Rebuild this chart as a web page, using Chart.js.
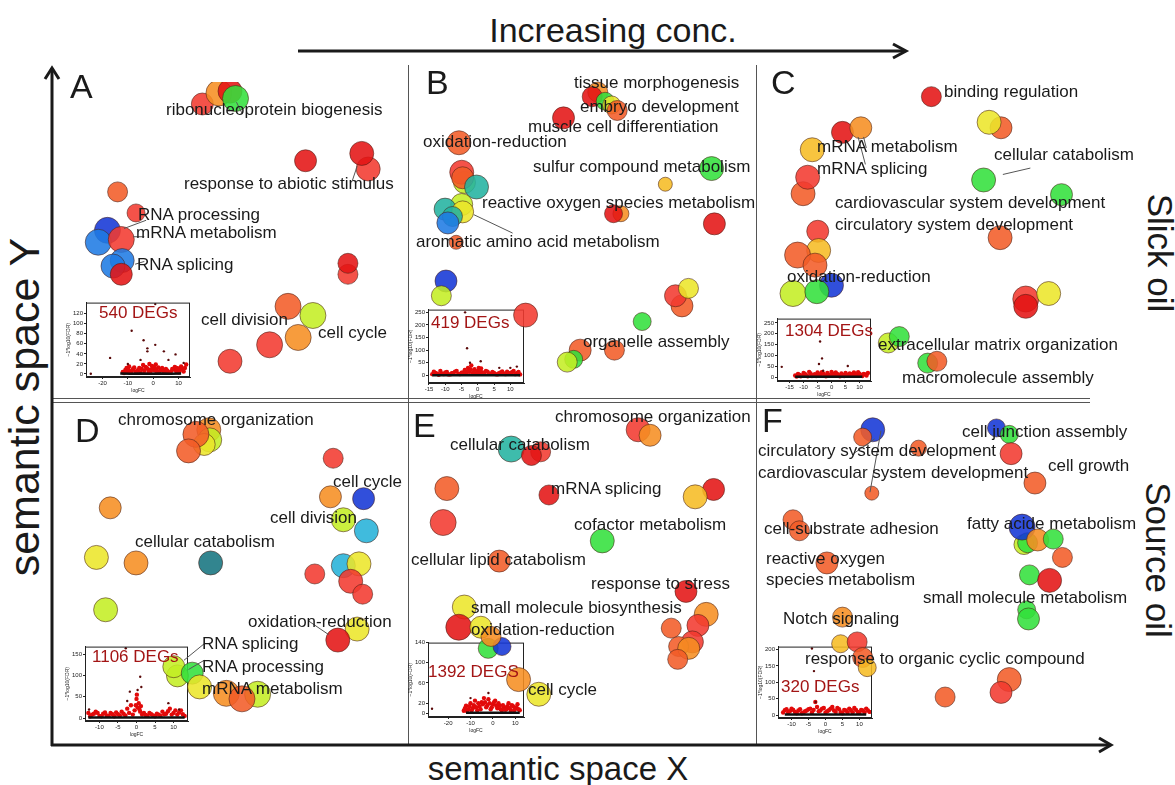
<!DOCTYPE html>
<html lang="en">
<head>
<meta charset="UTF-8">
<title>Semantic space</title>
<script src="https://cdn.jsdelivr.net/npm/chart.js"></script>
<style>
  body { margin: 0; background: #fff; }
  #fig { position: relative; width: 1175px; height: 785px; overflow: hidden;
         font-family: "Liberation Sans", Arial, sans-serif; color: #1a1a1a; }
  #fig canvas { position: absolute; }
  #frame { position: absolute; left: 0; top: 0; z-index: 0; }
  .lbl { position: absolute; font-size: 17px; line-height: 1; white-space: nowrap;
         transform: translateY(-50%); z-index: 5; }
  .letter { position: absolute; font-size: 34px; line-height: 1; transform: translateY(-50%); z-index: 5; }
  .degs { color: #a31515; }
  .big { position: absolute; line-height: 1; white-space: nowrap; z-index: 5; }
</style>
</head>
<body>
<div id="fig">
  <svg id="frame" width="1175" height="785">
    <g stroke="#555" stroke-width="1" fill="none">
      <line x1="408.5" y1="65" x2="408.5" y2="745"/>
      <line x1="756.5" y1="65" x2="756.5" y2="745"/>
      <line x1="52" y1="398.5" x2="1090" y2="398.5"/>
      <line x1="52" y1="402.5" x2="1090" y2="402.5"/>
    </g>
    <g stroke="#1a1a1a" stroke-width="3" fill="none">
      <line x1="52" y1="746" x2="52" y2="68"/>
      <polyline points="45,79 52,68 59,79"/>
      <line x1="51" y1="745" x2="1110" y2="745"/>
      <polyline points="1099,738 1111,745 1099,752"/>
      <line x1="298" y1="51" x2="905" y2="51"/>
      <polyline points="893,44 906,51 893,58"/>
    </g>
  </svg>
  <div class="big" style="left:613px; top:13px; font-size:34px; transform:translateX(-50%)">Increasing conc.</div>
  <div class="big" style="left:24px; top:407px; font-size:43px; transform:translate(-50%,-50%) rotate(-90deg)">semantic space Y</div>
  <div class="big" style="left:558px; top:768px; font-size:33px; transform:translate(-50%,-50%)">semantic space X</div>
  <div class="big" style="left:1160px; top:253px; font-size:35px; transform:translate(-50%,-50%) rotate(90deg)">Slick oil</div>
  <div class="big" style="left:1158px; top:560px; font-size:35px; transform:translate(-50%,-50%) rotate(90deg)">Source oil</div>
</div>

<script>
// colour scale of the GO terms (index = significance class, blue low -> red high)
const COLORS = ['#1437d6','#1f7be4','#26b2d8','#167480','#23b3a0','#33e03c','#c4ee24',
                '#ece62a','#f6bc24','#f68e22','#f25c28','#f23a30','#e41414'];

// Panel A
const A_X = [14.8,16.6,17.8,18.4,26.0,32.8,32.1,5.6,7.6,4.5,3.5,6.0,6.1,5.1,6.0,30.6,30.6,24.1,26.8,25.2,22.1,17.8];
const A_Y = [30.8,32.0,32.2,31.4,24.6,23.7,25.4,21.2,18.9,17.0,15.7,16.0,13.7,13.1,12.2,12.2,13.4,8.7,7.7,5.3,4.5,2.7];
const A_R = [11,13,12,13,11,12,12,10,9,13,13,13,12,12,11,10,10,13,13,13,13,12];
const A_C = [11,9,12,5,12,11,12,10,11,0,1,11,1,1,12,11,12,10,6,9,11,11];
// Panel B
const B_X = [15.4,19.1,18.5,19.9,20.6,21.2,4.1,4.7,4.4,4.5,6.0,31.4,26.4,4.4,2.6,4.5,3.4,2.9,3.8,21.6,20.8,31.7,2.7,2.2,11.3,28.2,27.5,28.9,23.9,20.9,17.2,16.5,15.8];
const B_Y = [29.2,32.0,31.5,31.0,30.6,30.0,26.5,22.2,23.3,22.7,21.7,23.7,22.0,19.8,19.3,19.0,18.5,17.8,15.7,18.8,18.8,17.7,11.5,9.9,7.8,8.8,9.9,10.7,7.1,4.0,4.0,3.0,2.7];
const B_R = [11,10,10,9,9,10,12,11,12,11,12,12,7,11,11,11,10,11,7,8,9,11,11,10,12,11,11,10,9,10,11,9,10];
const B_C = [12,9,12,5,7,10,10,6,11,10,4,5,8,6,4,7,4,1,10,9,12,12,0,6,11,10,11,7,5,10,10,5,6];
// Panel C
const C_X = [17.5,25.1,23.8,7.8,9.8,4.5,3.5,4.0,23.2,31.7,25.0,5.1,5.2,2.9,4.8,6.6,2.4,5.0,27.8,27.8,30.3,12.8,14.0,17.1,18.1];
const C_Y = [31.6,28.2,28.8,27.7,28.2,25.8,21.0,22.8,22.5,20.9,16.2,16.9,14.8,14.3,13.2,11.0,10.1,10.3,9.5,8.7,10.1,4.7,5.4,2.5,2.7];
const C_R = [10,11,12,11,11,12,12,12,12,11,12,11,12,13,12,12,13,12,13,12,12,10,10,10,10];
const C_C = [12,10,7,12,9,8,10,11,5,5,10,11,8,10,10,0,6,5,11,12,7,6,5,5,10];
// Panel D
const D_X = [15.5,15.6,15.0,14.1,13.3,29.0,28.7,32.3,30.1,32.6,4.8,3.3,7.6,15.7,27.0,30.1,31.8,30.9,32.2,4.3,31.6,29.5,12.1,11.7,13.7,14.5,17.4,20.8,19.1];
const D_Y = [32.8,31.7,31.2,32.3,30.5,29.7,25.5,25.3,23.0,21.8,24.3,18.9,18.3,18.3,17.1,18.0,18.2,16.3,14.9,13.2,11.1,9.9,6.0,7.0,6.3,4.8,4.1,4.0,3.5];
const D_R = [12,12,11,13,12,10,11,11,12,12,11,12,12,12,10,12,12,12,10,12,12,12,11,11,11,12,13,13,13];
const D_C = [9,6,7,10,10,11,9,0,6,2,9,7,9,3,11,2,7,11,11,6,7,12,6,6,5,7,9,6,10];
// Panel E
const E_X = [23.5,24.8,9.7,12.9,11.9,2.7,13.8,31.7,29.7,2.3,19.6,8.4,28.7,30.9,27.1,30.0,29.4,27.9,29.0,27.8,4.6,4.0,6.4,7.2,8.7,7.5,10.5,12.7];
const E_Y = [32.8,32.2,30.7,30.4,30.0,26.4,25.7,26.3,25.5,22.7,20.7,18.5,15.2,12.7,11.2,11.5,9.7,9.2,9.0,7.8,13.5,11.3,11.3,9.0,9.2,10.3,5.6,4.0];
const E_R = [12,11,13,10,10,12,10,11,12,13,12,11,11,12,10,11,11,10,11,10,12,13,11,10,9,10,12,12];
const E_C = [11,9,4,11,12,10,12,12,8,11,5,10,12,9,10,11,11,10,9,10,7,12,7,5,0,9,9,7];
// Panel F
const F_X = [11.1,10.0,16.1,24.6,26.0,26.2,11.0,28.8,2.4,3.1,27.6,28.0,27.4,29.1,30.8,31.8,6.1,28.2,30.4,27.9,28.1,7.8,7.6,9.4,10.0,10.5,26.0,25.1,19.0];
const F_Y = [32.8,32.0,30.8,33.0,32.3,30.2,25.9,27.0,23.0,21.8,20.3,20.5,22.2,20.8,20.9,18.9,18.3,17.0,16.4,13.2,12.2,12.4,9.5,9.7,8.0,6.9,5.6,4.2,3.7];
const F_R = [12,9,8,9,9,11,7,11,10,10,10,10,13,11,10,10,11,10,12,9,11,10,9,10,10,9,12,11,10];
const F_C = [0,10,10,0,5,11,10,10,10,10,6,5,0,9,5,10,10,5,12,5,5,9,8,11,10,8,10,11,10];

// volcano insets: [logFC, -log10(FDR)]
const A_RED = [[-12,4],[-11,8],[-10.5,12],[-10,6],[-9.5,15],[-9,3],[-8,10],[-7,5],[-6,8],[-5.5,12],[-5,3],[-4,18],[-3.5,6],[-3,14],[-2,9],[-1.5,20],[-1,5],[-0.5,16],[0,11],[0.5,7],[1,19],[1.5,4],[2,13],[3,8],[4,6],[5,10],[6,3],[7,5],[8,9],[8.5,14],[9,6],[9.5,4],[10,11],[10.5,8],[11,15],[12,5],[13,19],
  [-11.5,2],[-10.8,5],[-9.8,9],[-8.5,6],[-7.5,13],[-6.5,4],[-4.5,10],[-2.5,12],[-1.8,3],[-0.8,9],[0.3,14],[1.2,9],[2.5,5],[3.5,12],[4.5,3],[5.5,7],[7.5,10],[9.2,12],[10.2,3],[11.5,9],[12.5,12]];
const A_BASE = [[-13,1],[-9,0.5],[-5,1],[-1,0.5],[3,1],[7,0.5],[11,1]];
const A_OUT = [[-24.6,0.5],[-17,32],[-8.5,86],[-3.8,67],[-2.3,51],[-2.3,45],[0.8,58],[0.8,139],[4.2,45],[8.8,39],[-10,20],[6,28],[12,22],[-5,28]];
const B_RED = [[-14,5],[-13,10],[-12,3],[-11,8],[-10,12],[-9,4],[-8,9],[-7,15],[-6,6],[-5,11],[-4,22],[-3.5,8],[-3,30],[-2.5,14],[-2,40],[-1.5,10],[-1,25],[-0.5,6],[0,18],[0.5,9],[1,28],[1.5,12],[2,7],[3,15],[4,6],[5,10],[6,4],[7,12],[8,8],[9,15],[10,6],[11,18],[12,9],[13,4],
  [-13.5,15],[-12.5,7],[-11.5,18],[-10.5,5],[-9.5,14],[-8.5,4],[-7.5,10],[-6.5,18],[-5.5,5],[-4.5,12],[-3.8,16],[-2.8,20],[-2.2,25],[-1.2,15],[0.3,30],[0.8,20],[2.5,18],[3.5,8],[4.5,14],[5.5,5],[6.5,9],[7.5,16],[8.5,5],[9.5,10],[10.5,13],[11.5,5],[12.5,14]];
const B_BASE = [[-14,1],[-10,1],[-6,1],[-2,1],[2,1],[6,1],[10,1],[13,1]];
const B_OUT = [[-3.9,250],[-3.3,108],[-2.4,50],[0.9,56],[6.6,30],[10,30],[12,35]];
const C_RED = [[-13,8],[-12,15],[-11,5],[-10,20],[-9,10],[-8,25],[-7,6],[-6,14],[-5,22],[-4,9],[-3,18],[-2,5],[-1,12],[0,25],[1,8],[2,16],[3,5],[4,11],[5,20],[6,7],[7,14],[8,22],[9,9],[10,17],[11,6],[12,13],[13,20],
  [-12.5,4],[-11.5,12],[-10.5,8],[-9.5,16],[-8.5,5],[-7.5,18],[-6.5,10],[-5.5,6],[-4.5,14],[-3.5,24],[-2.5,10],[-1.5,20],[-0.5,8],[0.5,16],[1.5,22],[2.5,10],[3.5,18],[4.5,6],[5.5,12],[6.5,18],[7.5,8],[8.5,14],[9.5,24],[10.5,10],[11.5,16],[12.5,8]];
const C_BASE = [[-13,2],[-9,2],[-5,2],[-1,2],[3,2],[7,2],[11,2]];
const C_OUT = [[-17.8,48],[-4.1,165],[-3.4,87],[-4.5,61],[5.8,52],[-3,30]];
const D_RED = [[-13,12],[-12,8],[-11,15],[-10,5],[-9,10],[-8,6],[-7,12],[-6,4],[-5,9],[-4,15],[-3,6],[-2.5,22],[-2,12],[-1.5,30],[-1,8],[-0.5,18],[0,45],[0.3,25],[0.6,35],[1,15],[1.5,8],[2,12],[3,5],[4,9],[5,4],[6,8],[7,15],[8,10],[9,22],[10,12],[11,8],[12,18],[13,5],
  [-12.5,4],[-11.5,10],[-10.5,12],[-9.5,4],[-8.5,13],[-7.5,5],[-6.5,9],[-5.5,13],[-4.5,6],[-3.5,10],[-0.2,30],[0.1,55],[0.8,20],[1.2,28],[2.5,7],[3.5,12],[4.5,6],[5.5,10],[6.5,5],[7.5,9],[8.5,16],[9.5,8],[10.5,18],[11.5,13],[12.5,9]];
const D_BASE = [[-13,1],[-9,1],[-5,1],[-1,1],[3,1],[7,1],[11,1],[13,1]];
const D_OUT = [[-2.9,164],[1,97],[1.3,73],[0.3,66],[-1.8,62],[-2.5,40],[8.6,35],[11.5,20],[-12.8,20]];
const E_RED = [[-13,5],[-12,15],[-11,8],[-10,20],[-9,10],[-8,25],[-7,6],[-6,14],[-5,22],[-4,30],[-3,12],[-2,28],[-1,8],[0,18],[1,25],[2,10],[3,15],[4,6],[5,12],[6,8],[7,20],[8,5],[9,14],[10,9],[11,18],[12,6],
  [-12.5,10],[-11.5,4],[-10.5,14],[-9.5,6],[-8.5,16],[-7.5,12],[-6.5,20],[-5.5,8],[-4.5,18],[-3.5,22],[-2.5,16],[-1.5,20],[-0.5,12],[0.5,22],[1.5,15],[2.5,20],[3.5,8],[4.5,16],[5.5,7],[6.5,14],[7.5,10],[8.5,16],[9.5,6],[10.5,12],[11.5,8]];
const E_BASE = [[-12,1],[-8,1],[-4,1],[0,1],[4,1],[8,1],[12,1]];
const E_OUT = [[-27.2,9],[-10,30],[-2,40]];
const F_RED = [[-12,15],[-11,8],[-10,20],[-9,10],[-8,14],[-7,6],[-6,12],[-5,18],[-4,8],[-3,40],[-2.5,25],[-2,12],[-1,20],[0,8],[1,15],[2,25],[3,10],[4,18],[5,6],[6,14],[7,20],[8,9],[9,16],[10,7],[11,14],[12,20],[13,10],
  [-12.5,8],[-11.5,18],[-10.5,12],[-9.5,16],[-8.5,6],[-7.5,18],[-6.5,8],[-5.5,14],[-4.5,20],[-3.5,16],[-1.5,14],[-0.5,22],[0.5,12],[1.5,20],[2.5,14],[3.5,22],[4.5,9],[5.5,16],[6.5,8],[7.5,15],[8.5,22],[9.5,10],[10.5,16],[11.5,8],[12.5,14]];
const F_BASE = [[-12,2],[-8,2],[-4,2],[0,2],[4,2],[8,2],[12,2]];
const F_OUT = [[-4,203],[-3.4,134],[-2.9,40]];

// tick labels of the insets
const A_XT = [-20,-10,0,10], A_YT = [0,20,40,60,80,100,120];
const B_XT = [-15,-10,-5,0,5,10], B_YT = [0,50,100,150,200,250];
const C_XT = [-15,-10,-5,0,5,10], C_YT = [0,50,100,150,200,250];
const D_XT = [-10,-5,0,5,10], D_YT = [0,50,100,150];
const E_XT = [-20,-10,0,10], E_YT = [0,20,60,100,140];
const F_XT = [-10,-5,0,5,10], F_YT = [0,50,100,150,200];

// layout: panel boxes [left, top, width, height], labels [text, left, centre y], leader lines
const PANELS = [
  { id:'A', box:[52,68,356,332], x:A_X, y:A_Y, r:A_R, c:A_C, letter:[70,86],
    lead:[[18.5,31.0,19.1,29.8],[6.3,17.2,8.7,18.1],[7.3,16.3,8.5,16.3],[7.5,13.3,8.5,13.6],[31.6,24.0,31.1,22.5]],
    labels:[['ribonucleoprotein biogenesis',166,109],['response to abiotic stimulus',184,183],['RNA processing',138,214],
            ['mRNA metabolism',136,232],['RNA splicing',137,264],['cell division',201,319],['cell cycle',318,332]],
    inset:{ box:[86,298,108,79], xr:[-26.5,14.5], yr:[-6,142], xt:A_XT, yt:A_YT, red:A_RED, base:A_BASE, out:A_OUT, degs:['540 DEGs',99,312] } },
  { id:'B', box:[408,68,349,332], x:B_X, y:B_Y, r:B_R, c:B_C, letter:[426,82],
    lead:[[5.7,18.7,9.9,16.7]],
    labels:[['tissue morphogenesis',574,82],['embryo development',580,106],['muscle cell differentiation',528,126],
            ['oxidation-reduction',423,141],['sulfur compound metabolism',533,166],['reactive oxygen species metabolism',482,202],
            ['aromatic amino acid metabolism',416,241],['organelle assembly',583,341]],
    inset:{ box:[428,305,100,78], xr:[-15.3,14.2], yr:[-30,261], xt:B_XT, yt:B_YT, red:B_RED, base:B_BASE, out:B_OUT, degs:['419 DEGs',431,322] } },
  { id:'C', box:[757,68,335,332], x:C_X, y:C_Y, r:C_R, c:C_C, letter:[771,82],
    lead:[[9.5,27.2,10.3,24.2],[10.1,27.2,10.4,26.0],[25.3,23.1,28.3,23.8]],
    labels:[['binding regulation',944,91],['mRNA metabolism',817,146],['mRNA splicing',817,168],['cellular catabolism',994,154],
            ['cardiovascular system development',835,202],['circulatory system development',835,224],['oxidation-reduction',787,276],
            ['extracellular matrix organization',878,344],['macromolecule assembly',902,377]],
    inset:{ box:[777,314,98,67], xr:[-19.5,14.1], yr:[-17,270], xt:C_XT, yt:C_YT, red:C_RED, base:C_BASE, out:C_OUT, degs:['1304 DEGs',785,330] } },
  { id:'D', box:[52,402,356,343], x:D_X, y:D_Y, r:D_R, c:D_C, letter:[75,430],
    lead:[[26.3,12.0,28.5,10.5],[15.0,9.5,12.8,7.7],[15.0,7.7,13.3,6.7]],
    labels:[['chromosome organization',118,419],['cell cycle',333,481],['cell division',270,517],['cellular catabolism',135,541],
            ['oxidation-reduction',248,621],['RNA splicing',202,643],['RNA processing',202,666],['mRNA metabolism',202,688]],
    inset:{ box:[85,642,107,79], xr:[-13.9,13.9], yr:[-7,168], xt:D_XT, yt:D_YT, red:D_RED, base:D_BASE, out:D_OUT, degs:['1106 DEGs',92,656] } },
  { id:'E', box:[408,402,349,343], x:E_X, y:E_Y, r:E_R, c:E_C, letter:[413,425],
    lead:[],
    labels:[['chromosome organization',555,416],['cellular catabolism',450,444],['mRNA splicing',551,488],['cofactor metabolism',574,524],
            ['cellular lipid catabolism',411,559],['response to stress',591,583],['small molecule biosynthesis',471,607],
            ['oxidation-reduction',471,629],['cell cycle',528,689]],
    inset:{ box:[428,638,100,79], xr:[-29,13.9], yr:[-7.4,140], xt:E_XT, yt:E_YT, red:E_RED, base:E_BASE, out:E_OUT, degs:['1392 DEGS',428,671] } },
  { id:'F', box:[757,402,335,343], x:F_X, y:F_Y, r:F_R, c:F_C, letter:[762,420],
    lead:[[12.0,32.7,10.8,26.0],[11.3,31.8,9.0,30.2]],
    labels:[['cell junction assembly',962,431],['circulatory system development',758,450],['cardiovascular system development',758,472],
            ['cell growth',1048,465],['cell-substrate adhesion',764,528],['fatty acide metabolism',967,523],['reactive oxygen',766,558],
            ['species metabolism',766,579],['small molecule metabolism',923,597],['Notch signaling',783,618],
            ['response to organic cyclic compound',805,658]],
    inset:{ box:[778,642,98,76], xr:[-14,13.7], yr:[-8.6,208.6], xt:F_XT, yt:F_YT, red:F_RED, base:F_BASE, out:F_OUT, degs:['320 DEGs',781,686] } }
];

Chart.defaults.font.family = '"Liberation Sans", Arial, sans-serif';
const fig = document.getElementById('fig');

function rgba(hex, a) {
  const n = parseInt(hex.slice(1), 16);
  return `rgba(${n >> 16},${(n >> 8) & 255},${n & 255},${a})`;
}

function addCanvas(l, t, w, h, z) {
  const cv = document.createElement('canvas');
  cv.width = w; cv.height = h;
  cv.style.left = l + 'px'; cv.style.top = t + 'px'; cv.style.zIndex = z;
  fig.appendChild(cv);
  return cv;
}

function addText(txt, l, cy, cls) {
  const d = document.createElement('div');
  d.className = cls;
  d.textContent = txt;
  d.style.left = l + 'px'; d.style.top = cy + 'px';
  fig.appendChild(d);
}

const boxFrame = {
  id: 'boxFrame',
  afterDraw(chart) {
    const a = chart.chartArea, ctx = chart.ctx;
    ctx.save();
    ctx.strokeStyle = '#222'; ctx.lineWidth = 1;
    ctx.strokeRect(a.left + 0.5, a.top + 0.5, a.right - a.left - 1, a.bottom - a.top - 1);
    ctx.restore();
  }
};

function bubblePanel(p) {
  const [l, t, w, h] = p.box;
  const cv = addCanvas(l, t, w, h, 2);
  const pts = p.x.map((v, i) => ({ x: v, y: p.y[i], r: p.r[i] }));
  const datasets = [{
    type: 'bubble', order: 1, data: pts,
    backgroundColor: p.c.map(k => rgba(COLORS[k], 0.88)),
    borderColor: 'rgba(70,30,20,0.55)', borderWidth: 1
  }];
  p.lead.forEach(s => datasets.push({
    type: 'scatter', order: 0, showLine: true, pointRadius: 0,
    borderColor: '#555', borderWidth: 1,
    data: [{ x: s[0], y: s[1] }, { x: s[2], y: s[3] }]
  }));
  new Chart(cv, {
    type: 'bubble',
    data: { datasets },
    options: {
      responsive: false, animation: false, events: [],
      layout: { padding: 0 },
      plugins: { legend: { display: false }, tooltip: { enabled: false } },
      scales: {
        x: { type: 'linear', min: 0, max: w / 10, display: false },
        y: { type: 'linear', min: 0, max: h / 10, display: false }
      }
    }
  });
}

function volcano(q) {
  const YW = 20, XH = 17;
  const [l, t, w, h] = q.box;
  const cv = addCanvas(l - YW, t, w + YW, h + XH, 1);
  const xy = a => a.map(p => ({ x: p[0], y: p[1] }));
  const axisCommon = {
    type: 'linear',
    ticks: { font: { size: 6 }, color: '#222', padding: 1, autoSkip: false, maxRotation: 0 },
    grid: { drawOnChartArea: false, tickLength: 2, color: '#222' },
    border: { color: '#222' }
  };
  new Chart(cv, {
    type: 'scatter',
    data: { datasets: [
      { data: xy(q.base), showLine: true, pointRadius: 0, borderColor: '#111', borderWidth: 2.5, order: 0 },
      { data: xy(q.red), pointRadius: 2.2, backgroundColor: '#e20a0a', borderWidth: 0, order: 1 },
      { data: xy(q.out), pointRadius: 1.2, backgroundColor: '#5a0a0a', borderWidth: 0, order: 0 }
    ] },
    options: {
      responsive: false, animation: false, events: [],
      layout: { padding: 0 },
      plugins: { legend: { display: false }, tooltip: { enabled: false } },
      scales: {
        x: { ...axisCommon, min: q.xr[0], max: q.xr[1],
             afterBuildTicks: s => { s.ticks = q.xt.map(v => ({ value: v })); },
             afterFit: s => { s.height = XH; },
             title: { display: true, text: 'logFC', font: { size: 5 }, padding: 0, color: '#222' } },
        y: { ...axisCommon, min: q.yr[0], max: q.yr[1],
             afterBuildTicks: s => { s.ticks = q.yt.map(v => ({ value: v })); },
             afterFit: s => { s.width = YW; },
             title: { display: true, text: '\u22121*log10(FDR)', font: { size: 5 }, padding: 0, color: '#222' } }
      }
    },
    plugins: [boxFrame]
  });
  addText(q.degs[0], q.degs[1], q.degs[2], 'lbl degs');
}

PANELS.forEach(p => {
  volcano(p.inset);
  bubblePanel(p);
  addText(p.id, p.letter[0], p.letter[1], 'letter');
  p.labels.forEach(s => addText(s[0], s[1], s[2], 'lbl'));
});
</script>
</body>
</html>
